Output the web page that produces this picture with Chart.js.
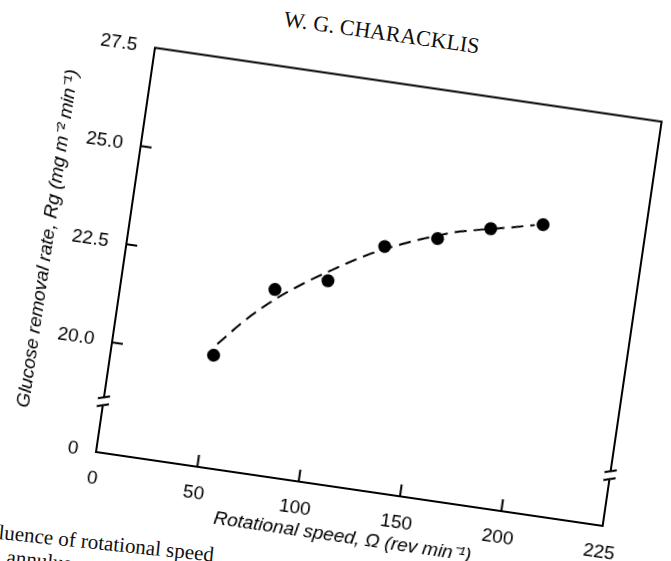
<!DOCTYPE html>
<html><head><meta charset="utf-8">
<script src="https://cdn.jsdelivr.net/npm/chart.js@4.4.1/dist/chart.umd.min.js"></script>
<style>
html,body{margin:0;padding:0;background:#fff;}
body{width:671px;height:561px;overflow:hidden;position:relative;}
#wrap{position:absolute;left:0;top:0;width:627px;height:492px;}
#head{position:absolute;left:284px;top:6px;font-family:"Liberation Serif","Times New Roman",serif;font-size:22px;line-height:26px;color:#111;white-space:nowrap;transform:rotate(8deg);transform-origin:left center;}
#cap{position:absolute;left:0px;top:520px;font-family:"Liberation Serif","Times New Roman",serif;font-size:21px;line-height:24px;color:#111;white-space:nowrap;transform:rotate(6deg);transform-origin:left top;}
</style></head><body>
<div id="head">W. G. CHARACKLIS</div>
<div id="cap">luence of rotational speed<br>&nbsp;&nbsp;annulus</div>
<div id="wrap"><canvas id="c" width="627" height="492"></canvas></div>
<script>
// measured data
const rotSpeed = [50, 75, 100, 125, 150, 175, 200];
const glucoseRate = [20.05, 21.91, 22.32, 23.38, 23.77, 24.21, 24.5];
// dashed fitted curve
const fitSpeed = [51, 63, 75.6, 88, 99.3, 117, 133, 142.4, 157.8, 167.8, 185, 196];
const fitRate = [20.34, 21.05, 21.66, 22.15, 22.54, 23.1, 23.5, 23.7, 23.99, 24.12, 24.32, 24.46];
// axes
const xTickValues = [0, 50, 100, 150, 200, 250];
const xTickLabels = ['0', '50', '100', '150', '200', '225'];
const yMin = 17.21, yMax = 27.5;
const yTickValues = [17.21, 20, 22.5, 25, 27.5];
const yTickLabels = ['0', '20.0', '22.5', '25.0', '27.5'];
const yBreakAt = 18.5;

const ORIGIN = [96, 451.7];
const ANGLE = 8.3;

const framePlugin = {
  id: 'frame',
  afterDraw(chart) {
    const {ctx, chartArea: a, scales: {x, y}} = chart;
    const yb = y.getPixelForValue(yBreakAt);
    const g = 4;
    ctx.save();
    ctx.strokeStyle = '#000'; ctx.lineWidth = 2; ctx.lineCap = 'square';
    ctx.beginPath();
    ctx.moveTo(a.left, a.bottom); ctx.lineTo(a.left, yb + g);
    ctx.moveTo(a.left, yb - g); ctx.lineTo(a.left, a.top);
    ctx.lineTo(a.right, a.top); ctx.lineTo(a.right, yb - g);
    ctx.moveTo(a.right, yb + g); ctx.lineTo(a.right, a.bottom);
    ctx.lineTo(a.left, a.bottom);
    for (const X of [a.left, a.right]) {
      for (const d of [-g, g]) { ctx.moveTo(X - 5, yb + d + 1.5); ctx.lineTo(X + 5, yb + d - 1.5); }
    }
    xTickValues.forEach(v => { if (v > x.min && v < x.max) { const px = x.getPixelForValue(v); ctx.moveTo(px, a.bottom); ctx.lineTo(px, a.bottom - 11); } });
    yTickValues.forEach(v => { if (v > yMin && v < yMax) { const py = y.getPixelForValue(v); ctx.moveTo(a.left, py); ctx.lineTo(a.left + 10, py); } });
    ctx.stroke();
    ctx.restore();
  }
};

const tickFont = {family: '"Liberation Sans", Arial, sans-serif', size: 19};
const titleFont = {family: '"Liberation Sans", Arial, sans-serif', size: 19, style: 'italic'};

const chart = new Chart(document.getElementById('c'), {
  type: 'scatter',
  data: {
    datasets: [
      {
        data: rotSpeed.map((v, i) => ({x: v, y: glucoseRate[i]})),
        pointRadius: 6.5, pointHoverRadius: 6.5,
        backgroundColor: '#000', borderColor: '#000', borderWidth: 0, showLine: false
      },
      {
        data: fitSpeed.map((v, i) => ({x: v, y: fitRate[i]})),
        showLine: true, pointRadius: 0, borderColor: '#000', borderWidth: 2,
        borderDash: [12, 7], cubicInterpolationMode: 'monotone', fill: false
      }
    ]
  },
  options: {
    responsive: false, animation: false,
    layout: {padding: {top: 18, right: 25, left: 0, bottom: 0}},
    plugins: {legend: {display: false}, tooltip: {enabled: false}},
    scales: {
      x: {
        type: 'linear', min: 0, max: 250,
        afterBuildTicks: s => { s.ticks = xTickValues.map(v => ({value: v})); },
        afterFit: s => { s.height = 62; },
        grid: {display: false}, border: {display: false},
        ticks: {callback: (v, i) => xTickLabels[i], autoSkip: false, maxRotation: 0, padding: 7, font: tickFont, color: '#000'},
        title: {display: true, text: 'Rotational speed, Ω (rev min⁻¹)', font: titleFont, color: '#000', padding: {top: 0, bottom: 2}}
      },
      y: {
        type: 'linear', min: yMin, max: yMax,
        afterBuildTicks: s => { s.ticks = yTickValues.map(v => ({value: v})); },
        afterFit: s => { s.width = 90; },
        grid: {display: false}, border: {display: false},
        ticks: {callback: (v, i) => yTickLabels[i], autoSkip: false, padding: 10, font: tickFont, color: '#000'},
        title: {display: true, text: 'Glucose removal rate, Rg (mg m⁻² min⁻¹)', font: titleFont, color: '#000', padding: {top: 0, bottom: 0}}
      }
    }
  },
  plugins: [framePlugin]
});

const a = chart.chartArea;
const wrap = document.getElementById('wrap');
wrap.style.left = (ORIGIN[0] - a.left) + 'px';
wrap.style.top = (ORIGIN[1] - a.bottom) + 'px';
wrap.style.transformOrigin = a.left + 'px ' + a.bottom + 'px';
wrap.style.transform = 'rotate(' + ANGLE + 'deg)';
</script>
</body></html>
